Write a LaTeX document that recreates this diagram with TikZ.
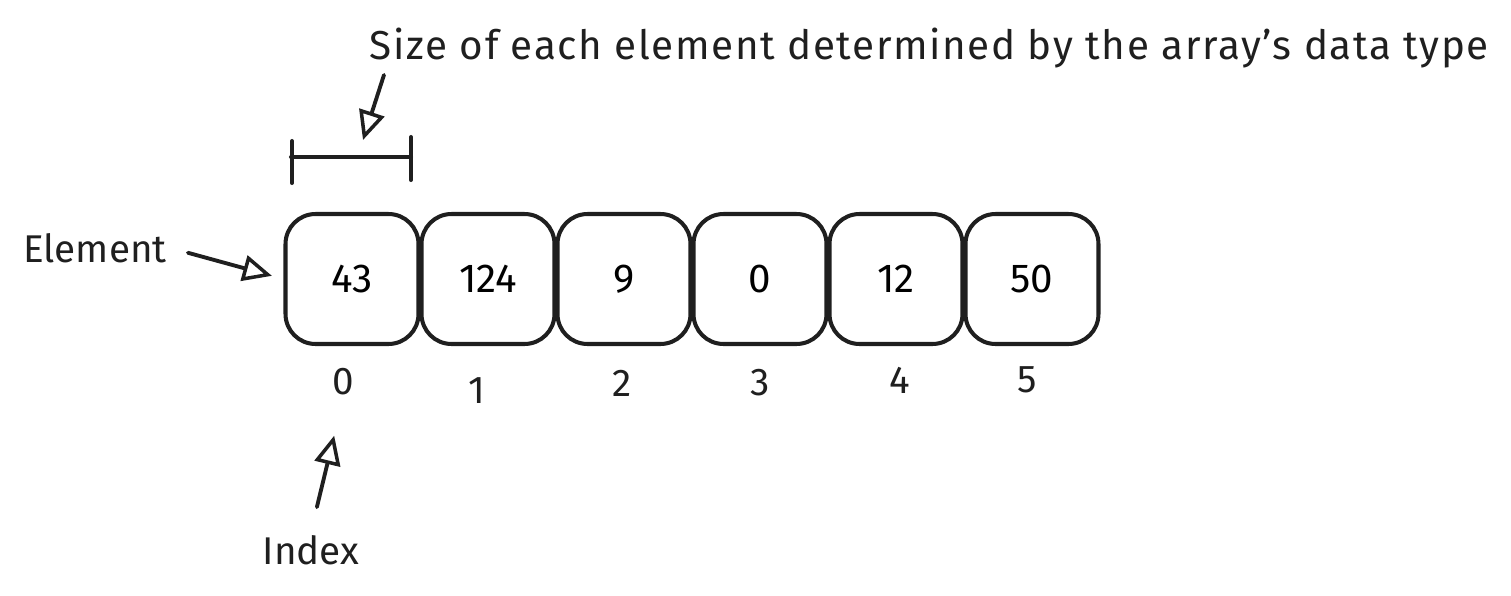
\documentclass[tikz,border=0pt]{standalone}
\usepackage{fontspec}
\setmainfont{Fira Sans}
\newfontfamily\widefont[LetterSpace=4, Ligatures=TeX]{Fira Sans}
\usepackage{tikz}
\usetikzlibrary{positioning, arrows.meta}
\tikzset{
	cell/.style={draw=black!88, line width=2.3pt, rounded corners=0.6cm, minimum width=2.66cm, minimum height=2.6cm, inner sep=0pt, font=\fontsize{23}{27}\selectfont},
	txt/.style={text=black!88, inner sep=2pt, font=\fontsize{22}{26}\selectfont},
	pointer/.style={draw=black!88, line width=2.2pt, line cap=round, -{Triangle[open, length=0.58cm, width=0.52cm, line width=2pt]}}
}

\begin{document}
\begin{tikzpicture}[x=0.02cm, y=-0.02cm]
				\useasboundingbox (0,0) rectangle (1511,595);
				\foreach \v [count=\i from 0] in {43,124,9,0,12,50} {
					\node[cell] (b\i) at (352+136*\i,279) {\v};
				}
				\foreach \x/\y [count=\i from 0] in {343/382, 477/391, 622/383, 760/383, 900/380, 1027/380} {
					\node[txt] (i\i) at (\x,\y) {\i};
				}
				
				\node[txt] (elem) at (95,248) {Element};
				\node[txt] (idx) at (311,550) {Index};
				\node[txt, anchor=west, font=\widefont\fontsize{23}{27}\selectfont] (size) at (366,48) {Size of each element determined by the array's data type};
				
				\draw[pointer, shorten <=0.36cm, shorten >=0.24cm] (elem.east) -- (b0.west);
				\draw[pointer, shorten <=0.5cm, shorten >=0.75cm] (idx.north) -- (i0.south);
				
				\coordinate (tip) at (363,140);
				\draw[pointer] ([xshift=0.36cm, yshift=-0.06cm]size.south west) -- (tip);
				
				\draw[black!88, line width=2.3pt, line cap=round] (291,157) -- (411,157) (292,141) -- (292,183) (411,137) -- (411,180);
\end{tikzpicture}
\end{document}
